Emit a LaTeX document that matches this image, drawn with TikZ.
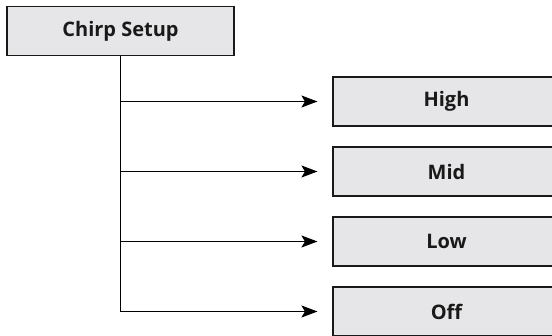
\documentclass[tikz,border=0pt]{standalone}
\usepackage{fontspec}
\setmainfont{Open Sans}
\usetikzlibrary{arrows.meta}
\definecolor{boxfill}{HTML}{E6E6E8}
\tikzset{
  menubox/.style={draw=black!90, line width=1.1pt, fill=boxfill, minimum width=227pt, minimum height=49pt, inner sep=0pt, font=\bfseries\fontsize{20}{22}\selectfont, text=black!90},
  link/.style={draw=black, line width=0.9pt, -{Stealth[length=16pt,width=12pt,inset=3.5pt]}, shorten >=15pt}
}
\begin{document}
\begin{tikzpicture}[x=1pt,y=-1pt]
\useasboundingbox (0,0) rectangle (552,335);
\clip (0,0) rectangle (552,335);
\node[menubox] (chirp) at (120.5,31) {Chirp Setup};
\node[menubox] (high) at (446.5,101.5) {High};
\node[menubox] (mid) at (446.5,171.5) {Mid};
\node[menubox] (low) at (446.5,241.5) {Low};
\node[menubox] (off) at (446.5,311.5) {Off};
\draw[link] (chirp.south) |- (high.west);
\draw[link] (chirp.south) |- (mid.west);
\draw[link] (chirp.south) |- (low.west);
\draw[link] (chirp.south) |- (off.west);
\end{tikzpicture}
\end{document}
